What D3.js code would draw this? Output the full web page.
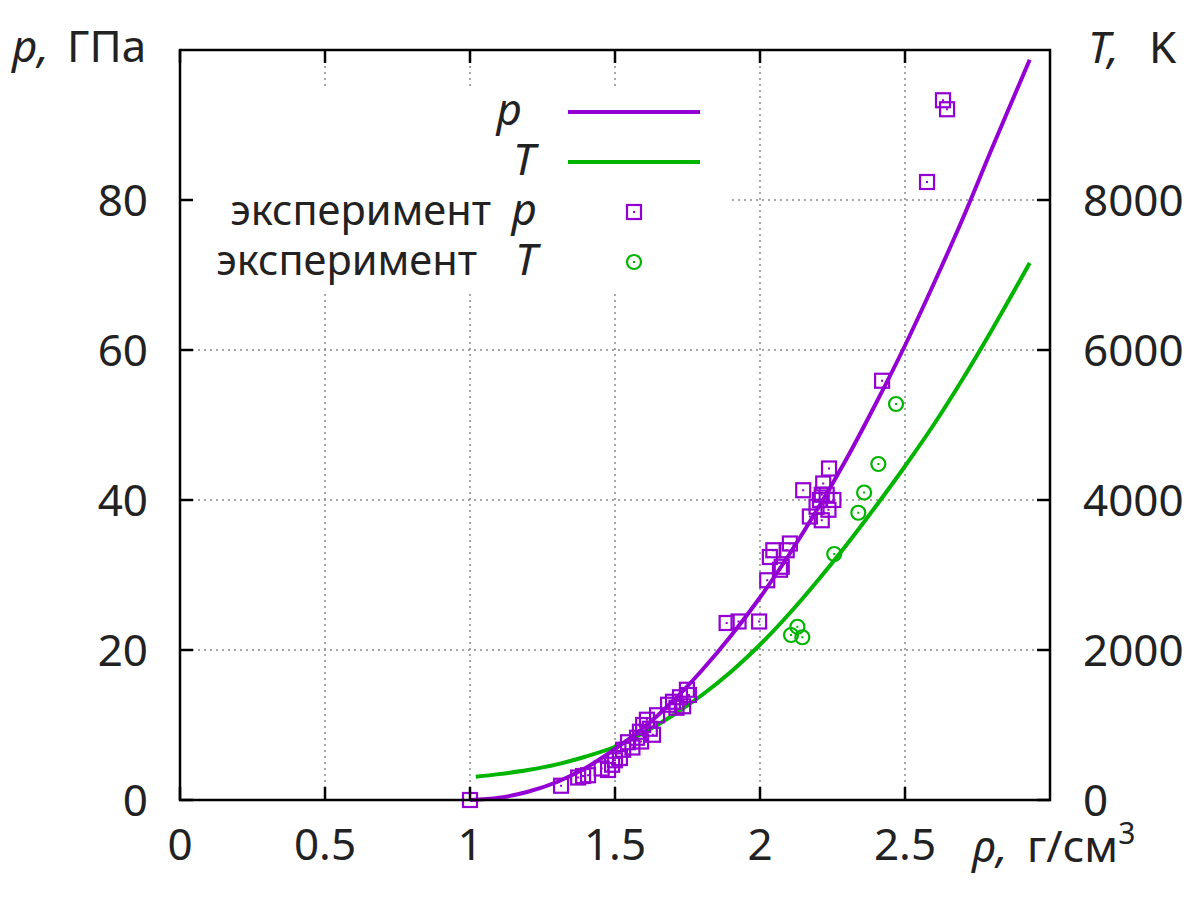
<!DOCTYPE html>
<html><head><meta charset="utf-8">
<script src="https://cdn.jsdelivr.net/npm/d3@7"></script>
<style>
html,body{margin:0;padding:0;background:#fff;}
text{font-family:"Noto Sans",sans-serif;fill:#222;}
</style></head>
<body><svg id="c" width="1200" height="900"></svg>
<script>
// ---- data ----
const xTicks = [0, 0.5, 1, 1.5, 2, 2.5];
const xTickLabels = ["0", "0.5", "1", "1.5", "2", "2.5"];
const yTicks = [0, 20, 40, 60, 80];
const y2Ticks = [0, 2000, 4000, 6000, 8000];

const rhoCurveP = [1.0, 1.1, 1.2, 1.3, 1.4, 1.5, 1.6, 1.7, 1.8, 1.9, 2.0, 2.1, 2.2, 2.3, 2.4, 2.5, 2.6, 2.7, 2.8, 2.93];
const pCurve    = [0, 0.3, 1.1, 2.4, 4.3, 6.8, 9.7, 13.2, 17.3, 21.9, 27.0, 32.7, 38.9, 45.6, 52.9, 60.6, 68.9, 77.6, 86.9, 98.7];

const rhoCurveT = [1.02, 1.1, 1.2, 1.3, 1.4, 1.5, 1.6, 1.7, 1.8, 1.9, 2.0, 2.1, 2.2, 2.3, 2.4, 2.5, 2.6, 2.7, 2.8, 2.93];
const TCurve    = [310, 345, 400, 475, 580, 710, 900, 1130, 1400, 1710, 2070, 2480, 2930, 3410, 3920, 4450, 5010, 5620, 6270, 7160];

const expRhoP = [1.000,1.314,1.373,1.390,1.407,1.454,1.476,1.490,1.500,1.517,1.528,1.545,1.560,1.576,1.586,1.597,1.590,1.610,1.620,1.631,1.645,1.683,1.700,1.712,1.724,1.735,1.748,1.755,
                 1.885,1.926,1.997,2.025,2.034,2.046,2.069,2.075,2.092,2.103,2.149,2.172,2.195,2.207,2.213,2.213,2.218,2.230,2.236,2.238,2.253,2.421,2.576,2.631,2.645];
const expP    = [0.0,1.9,3.0,3.2,3.3,4.2,4.0,4.7,5.3,5.6,6.7,7.7,7.0,8.3,9.1,10.0,7.8,10.7,9.5,8.7,11.3,12.7,13.1,12.3,13.7,12.5,14.7,14.0,
                 23.6,23.8,23.8,29.3,32.4,33.3,30.7,31.1,33.3,34.2,41.3,37.8,39.1,40.0,37.3,40.7,42.2,40.7,38.7,44.2,40.0,55.9,82.4,93.3,92.1];

const expRhoT = [2.107, 2.129, 2.146, 2.256, 2.339, 2.359, 2.408, 2.469];
const expT    = [2200, 2310, 2170, 3280, 3830, 4100, 4480, 5280];

const legendLabels = ["p", "T", "эксперимент", "эксперимент"];
const legendSyms = ["", "", "p", "T"];

// ---- drawing ----
const colP = "#9400d3", colT = "#00b400";
const svg = d3.select("#c");
const L = 180, R = 1050, Tp = 50, B = 800;
const x = d3.scaleLinear().domain([0, 3]).range([L, R]);
const y = d3.scaleLinear().domain([0, 100]).range([B, Tp]);
const y2 = d3.scaleLinear().domain([0, 10000]).range([B, Tp]);
const FS = 44;

// grid
const grid = svg.append("g").attr("stroke", "#8a8a8a").attr("stroke-width", 1.5).attr("stroke-dasharray", "2,4");
xTicks.filter(d => d > 0).forEach(d => grid.append("line").attr("x1", x(d)).attr("x2", x(d)).attr("y1", B).attr("y2", Tp));
yTicks.filter(d => d > 0).forEach(d => grid.append("line").attr("x1", L).attr("x2", R).attr("y1", y(d)).attr("y2", y(d)));

// opaque legend area
svg.append("rect").attr("x", L + 2).attr("y", 88).attr("width", 548).attr("height", 204).attr("fill", "#fff");

// curves
const line = d3.line().curve(d3.curveCatmullRom);
svg.append("path").attr("d", line(rhoCurveT.map((r, i) => [x(r), y2(TCurve[i])])))
  .attr("fill", "none").attr("stroke", colT).attr("stroke-width", 4);
svg.append("path").attr("d", line(rhoCurveP.map((r, i) => [x(r), y(pCurve[i])])))
  .attr("fill", "none").attr("stroke", colP).attr("stroke-width", 4);

// markers
function square(g, cx, cy) {
  g.append("rect").attr("x", cx - 7).attr("y", cy - 7).attr("width", 14).attr("height", 14)
    .attr("fill", "none").attr("stroke", colP).attr("stroke-width", 2.2);
  g.append("rect").attr("x", cx - 1).attr("y", cy - 1).attr("width", 2).attr("height", 2).attr("fill", colP);
}
function circ(g, cx, cy) {
  g.append("circle").attr("cx", cx).attr("cy", cy).attr("r", 7)
    .attr("fill", "none").attr("stroke", colT).attr("stroke-width", 2.2);
  g.append("rect").attr("x", cx - 1).attr("y", cy - 1).attr("width", 2).attr("height", 2).attr("fill", colT);
}
const gp = svg.append("g");
expRhoP.forEach((r, i) => square(gp, x(r), y(expP[i])));
const gt = svg.append("g");
expRhoT.forEach((r, i) => circ(gt, x(r), y2(expT[i])));

// frame & ticks
const ax = svg.append("g").attr("stroke", "#000").attr("stroke-width", 2.5);
ax.append("rect").attr("x", L).attr("y", Tp).attr("width", R - L).attr("height", B - Tp).attr("fill", "none");
const TL = 13;
xTicks.forEach(d => {
  ax.append("line").attr("x1", x(d)).attr("x2", x(d)).attr("y1", B).attr("y2", B - TL);
  ax.append("line").attr("x1", x(d)).attr("x2", x(d)).attr("y1", Tp).attr("y2", Tp + TL);
});
yTicks.forEach(d => ax.append("line").attr("x1", L).attr("x2", L + TL).attr("y1", y(d)).attr("y2", y(d)));
y2Ticks.forEach(d => ax.append("line").attr("x1", R).attr("x2", R - TL).attr("y1", y2(d)).attr("y2", y2(d)));

// tick labels
const tl = svg.append("g").attr("font-size", FS);
xTicks.forEach((d, i) => tl.append("text").attr("x", x(d)).attr("y", 860).attr("text-anchor", "middle").text(xTickLabels[i]));
yTicks.forEach(d => tl.append("text").attr("x", 148).attr("y", y(d)).attr("dy", "0.36em").attr("text-anchor", "end").text(d));
y2Ticks.forEach(d => tl.append("text").attr("x", 1083).attr("y", y2(d)).attr("dy", "0.36em").attr("text-anchor", "start").text(d));

// axis titles
tl.append("text").attr("x", 12).attr("y", 62).attr("font-style", "italic").text("p,");
tl.append("text").attr("x", 67).attr("y", 62).text("ГПа");
tl.append("text").attr("x", 1088).attr("y", 63).attr("font-style", "italic").text("T,");
tl.append("text").attr("x", 1149).attr("y", 63).text("K");
tl.append("text").attr("x", 972).attr("y", 862).attr("font-style", "italic").text("ρ,");
const t3 = tl.append("text").attr("x", 1027).attr("y", 862);
t3.append("tspan").text("г/см");
t3.append("tspan").attr("font-size", 30).attr("dy", -18).text("3");

// legend
const lg = svg.append("g").attr("font-size", FS);
const rows = [112, 162, 212, 262];
lg.append("text").attr("x", 522).attr("y", rows[0] + 13).attr("text-anchor", "end").attr("font-style", "italic").text(legendLabels[0]);
lg.append("text").attr("x", 535).attr("y", rows[1] + 13).attr("text-anchor", "end").attr("font-style", "italic").text(legendLabels[1]);
lg.append("text").attr("x", 491).attr("y", rows[2] + 13).attr("text-anchor", "end").attr("font-size", 41.5).text(legendLabels[2]);
lg.append("text").attr("x", 537).attr("y", rows[2] + 13).attr("text-anchor", "end").attr("font-style", "italic").text(legendSyms[2]);
lg.append("text").attr("x", 477).attr("y", rows[3] + 13).attr("text-anchor", "end").attr("font-size", 41.5).text(legendLabels[3]);
lg.append("text").attr("x", 537).attr("y", rows[3] + 13).attr("text-anchor", "end").attr("font-style", "italic").text(legendSyms[3]);
lg.append("line").attr("x1", 568).attr("x2", 700).attr("y1", rows[0]).attr("y2", rows[0]).attr("stroke", colP).attr("stroke-width", 4);
lg.append("line").attr("x1", 568).attr("x2", 700).attr("y1", rows[1]).attr("y2", rows[1]).attr("stroke", colT).attr("stroke-width", 4);
square(lg, 634, rows[2]);
circ(lg, 634, rows[3]);
</script></body></html>
